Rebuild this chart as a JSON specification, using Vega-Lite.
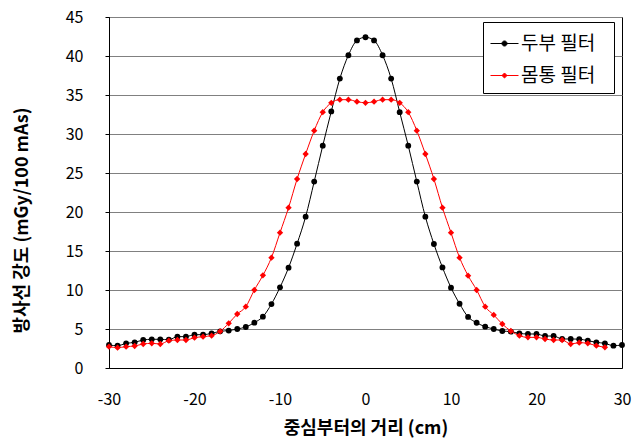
{
  "$schema": "https://vega.github.io/schema/vega-lite/v6.json",
  "width": 513,
  "height": 351,
  "autosize": {"type": "none"},
  "padding": {"left": 109, "top": 17, "right": 22, "bottom": 75},
  "background": "white",
  "config": {
    "view": {"stroke": "#000000", "strokeWidth": 1},
    "font": "Noto Sans CJK KR",
    "axis": {"labelFont": "Noto Sans CJK KR", "titleFont": "Noto Sans CJK KR", "labelColor": "#000000", "titleColor": "#000000", "domainColor": "#000000", "tickColor": "#000000"}
  },
  "datasets": {
    "head": [
      {"x": -30, "y": 2.95}, {"x": -29, "y": 2.86}, {"x": -28, "y": 3.16}, {"x": -27, "y": 3.29}, {"x": -26, "y": 3.59},
      {"x": -25, "y": 3.68}, {"x": -24, "y": 3.68}, {"x": -23, "y": 3.62}, {"x": -22, "y": 4.02}, {"x": -21, "y": 4.02},
      {"x": -20, "y": 4.27}, {"x": -19, "y": 4.27}, {"x": -18, "y": 4.44}, {"x": -17, "y": 4.7}, {"x": -16, "y": 4.8},
      {"x": -15, "y": 5.0}, {"x": -14, "y": 5.26}, {"x": -13, "y": 5.81}, {"x": -12, "y": 6.58}, {"x": -11, "y": 8.2},
      {"x": -10, "y": 10.34}, {"x": -9, "y": 12.86}, {"x": -8, "y": 15.94}, {"x": -7, "y": 19.4}, {"x": -6, "y": 23.9},
      {"x": -5, "y": 28.5}, {"x": -4, "y": 32.9}, {"x": -3, "y": 37.1}, {"x": -2, "y": 40.1}, {"x": -1, "y": 42.0},
      {"x": 0, "y": 42.4}, {"x": 1, "y": 42.0}, {"x": 2, "y": 40.1}, {"x": 3, "y": 37.1}, {"x": 4, "y": 32.8},
      {"x": 5, "y": 28.5}, {"x": 6, "y": 23.9}, {"x": 7, "y": 19.4}, {"x": 8, "y": 15.9}, {"x": 9, "y": 12.9},
      {"x": 10, "y": 10.3}, {"x": 11, "y": 8.24}, {"x": 12, "y": 6.55}, {"x": 13, "y": 5.8}, {"x": 14, "y": 5.3},
      {"x": 15, "y": 5.0}, {"x": 16, "y": 4.74}, {"x": 17, "y": 4.66}, {"x": 18, "y": 4.44}, {"x": 19, "y": 4.36},
      {"x": 20, "y": 4.36}, {"x": 21, "y": 4.1}, {"x": 22, "y": 4.1}, {"x": 23, "y": 3.72}, {"x": 24, "y": 3.72},
      {"x": 25, "y": 3.7}, {"x": 26, "y": 3.5}, {"x": 27, "y": 3.29}, {"x": 28, "y": 3.16}, {"x": 29, "y": 2.86},
      {"x": 30, "y": 2.95}
    ],
    "body": [
      {"x": -30, "y": 2.74}, {"x": -29, "y": 2.61}, {"x": -28, "y": 2.74}, {"x": -27, "y": 2.82}, {"x": -26, "y": 3.08},
      {"x": -25, "y": 3.16}, {"x": -24, "y": 3.08}, {"x": -23, "y": 3.5}, {"x": -22, "y": 3.59}, {"x": -21, "y": 3.59},
      {"x": -20, "y": 3.89}, {"x": -19, "y": 4.02}, {"x": -18, "y": 4.15}, {"x": -17, "y": 4.7}, {"x": -16, "y": 5.73},
      {"x": -15, "y": 6.92}, {"x": -14, "y": 7.86}, {"x": -13, "y": 10.0}, {"x": -12, "y": 11.88}, {"x": -11, "y": 14.15},
      {"x": -10, "y": 17.35}, {"x": -9, "y": 20.55}, {"x": -8, "y": 24.23}, {"x": -7, "y": 27.44}, {"x": -6, "y": 30.43},
      {"x": -5, "y": 32.8}, {"x": -4, "y": 34.0}, {"x": -3, "y": 34.4}, {"x": -2, "y": 34.4}, {"x": -1, "y": 34.15},
      {"x": 0, "y": 34.0}, {"x": 1, "y": 34.15}, {"x": 2, "y": 34.4}, {"x": 3, "y": 34.4}, {"x": 4, "y": 34.0},
      {"x": 5, "y": 32.8}, {"x": 6, "y": 30.43}, {"x": 7, "y": 27.44}, {"x": 8, "y": 24.23}, {"x": 9, "y": 20.55},
      {"x": 10, "y": 17.35}, {"x": 11, "y": 14.15}, {"x": 12, "y": 11.84}, {"x": 13, "y": 10.0}, {"x": 14, "y": 7.86},
      {"x": 15, "y": 6.8}, {"x": 16, "y": 5.64}, {"x": 17, "y": 4.74}, {"x": 18, "y": 4.15}, {"x": 19, "y": 3.93},
      {"x": 20, "y": 3.93}, {"x": 21, "y": 3.72}, {"x": 22, "y": 3.59}, {"x": 23, "y": 3.59}, {"x": 24, "y": 3.08},
      {"x": 25, "y": 3.25}, {"x": 26, "y": 3.16}, {"x": 27, "y": 2.86}, {"x": 28, "y": 2.65}
    ],
    "xticks": [
      {"t": -30}, {"t": -20}, {"t": -10}, {"t": 0}, {"t": 10}, {"t": 20}, {"t": 30}
    ]
  },
  "encoding": {
    "x": {
      "field": "x", "type": "quantitative",
      "scale": {"domain": [-30, 30], "nice": false, "zero": false},
      "axis": {
        "title": "중심부터의 거리 (cm)", "values": [-30, -20, -10, 0, 10, 20, 30],
        "labelExpr": "'' + datum.value",
        "grid": false, "ticks": false, "labelFlush": false, "labelPadding": 23, "labelFontSize": 16,
        "titleFontSize": 18, "titleFontWeight": "bold", "titlePadding": 12
      }
    },
    "y": {
      "field": "y", "type": "quantitative",
      "scale": {"domain": [0, 45], "nice": false},
      "axis": {
        "title": "방사선 강도 (mGy/100 mAs)", "values": [0, 5, 10, 15, 20, 25, 30, 35, 40, 45],
        "grid": true, "gridColor": "#808080", "gridWidth": 1, "tickSize": 4, "labelPadding": 22,
        "labelFlush": false,
        "labelFontSize": 16, "titleFontSize": 18, "titleFontWeight": "bold",
        "titleX": -87, "titleY": 203, "titleBaseline": "middle", "titleAlign": "center", "titleAngle": -90
      }
    }
  },
  "layer": [
    {
      "data": {"name": "xticks"},
      "mark": {"type": "rule", "strokeWidth": 1, "color": "#000000", "opacity": 1},
      "encoding": {
        "x": {"field": "t", "type": "quantitative"},
        "y": {"datum": 0},
        "y2": {"datum": 1.03}
      }
    },
    {
      "data": {"name": "head"},
      "transform": [{"calculate": "'두부 필터'", "as": "s"}],
      "mark": {"type": "line", "interpolate": "monotone", "strokeWidth": 1},
      "encoding": {
        "color": {
          "field": "s", "type": "nominal",
          "scale": {"domain": ["두부 필터", "몸통 필터"], "range": ["#000000", "#FF0000"]},
          "legend": {
            "title": "\u00a0", "titleOrient": "right", "titlePadding": 12, "titleFontSize": 10,
            "orient": "none", "legendX": 374, "legendY": 5,
            "strokeColor": "#000000", "fillColor": "#ffffff", "padding": 7,
            "labelFontSize": 19, "labelFont": "Noto Sans CJK KR", "labelColor": "#000000",
            "symbolSize": 784, "symbolStrokeWidth": 1, "labelOffset": 2, "rowPadding": 7,
            "encode": {
              "symbols": {
                "update": {
                  "shape": {"signal": "datum.value === '두부 필터' ? 'M-1,0L1,0M0.18,0A0.18,0.18,0,1,1,-0.18,0A0.18,0.18,0,1,1,0.18,0Z' : 'M-1,0L1,0M0,-0.18L0.18,0L0,0.18L-0.18,0Z'"},
                  "fill": {"signal": "datum.value === '두부 필터' ? '#000000' : '#FF0000'"},
                  "stroke": {"signal": "datum.value === '두부 필터' ? '#000000' : '#FF0000'"},
                  "opacity": {"value": 1}
                }
              }
            }
          }
        }
      }
    },
    {
      "data": {"name": "head"},
      "mark": {"type": "point", "shape": "circle", "filled": true, "size": 34, "color": "#000000", "opacity": 1}
    },
    {
      "data": {"name": "body"},
      "transform": [{"calculate": "'몸통 필터'", "as": "s"}],
      "mark": {"type": "line", "interpolate": "monotone", "strokeWidth": 1},
      "encoding": {
        "color": {"field": "s", "type": "nominal"}
      }
    },
    {
      "data": {"name": "body"},
      "mark": {"type": "point", "shape": "diamond", "filled": true, "size": 40, "color": "#FF0000", "opacity": 1}
    }
  ]
}
